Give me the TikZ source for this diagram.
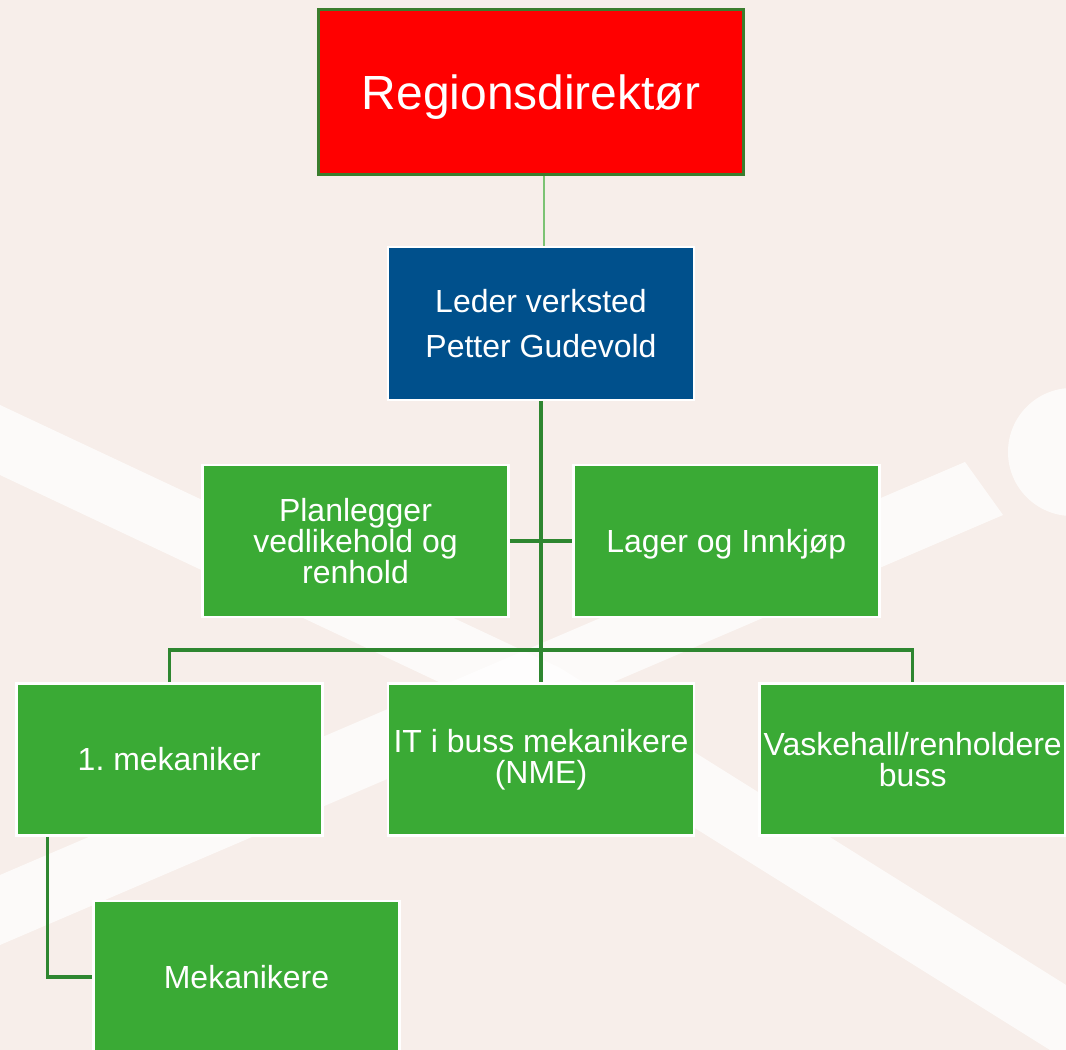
\documentclass[tikz,border=0pt]{standalone}
\usepackage{fontspec}
\setmainfont{Liberation Sans}
\usetikzlibrary{positioning}

\definecolor{bgbeige}{HTML}{F7EEEA}
\definecolor{dirred}{HTML}{FF0000}
\definecolor{lederblue}{HTML}{00508C}
\definecolor{unitgreen}{HTML}{3AAA35}
\definecolor{linkgreen}{HTML}{2E8630}
\definecolor{lightlink}{HTML}{7CC374}
\definecolor{rimgreen}{HTML}{3B7D2E}

\tikzset{
  unit/.style={rectangle, draw=white, line width=1.6pt, fill=unitgreen, text=white,
               minimum width=6.12cm, minimum height=3.04cm, inner sep=0pt, align=center,
               font=\fontsize{18.2}{17.8}\selectfont\frenchspacing},
  link/.style={draw=linkgreen, line width=1.8pt},
  band/.style={fill=white, opacity=0.75},
}

\begin{document}
\begin{tikzpicture}[x=0.02cm, y=-0.02cm]
    % Page and background
    \useasboundingbox (0,0) rectangle (1066,1050);
    \fill[bgbeige] (0,0) rectangle (1066,1050);
    \begin{scope}
        \clip (0,0) rectangle (1066,1050);
        \fill[band] (0,405) -- (560,668) -- (1066,985) -- (1066,1060) -- (530,725) -- (0,475) -- cycle;
        \fill[band] (0,875) -- (965,462) -- (1003,515) -- (0,945) -- cycle;
        \fill[band] (1072,452) circle (64);
    \end{scope}

    % Top of the chart
    \node[rectangle, draw=rimgreen, line width=1.7pt, fill=dirred, text=white, text depth=0pt,
          minimum width=8.52cm, minimum height=3.32cm, font=\fontsize{27.3}{30}\selectfont]
        (regdir) at (531,92) {Regionsdirektør};
    \node[rectangle, draw=white, line width=1.6pt, fill=lederblue, text=white,
          minimum width=6.12cm, minimum height=3.06cm, align=center,
          font=\fontsize{18.2}{25.6}\selectfont]
        (leder) at (541,323.5) {Leder verksted\\Petter Gudevold};

    % Staff units beside the trunk
    \node[unit] (planlegger) at (355.5,541) {Planlegger\\vedlikehold og\\renhold};
    \node[unit, text depth=0pt, right=1.24cm of planlegger] (lager) {Lager og Innkjøp};

    % Departments
    \node[unit] (itbuss) at (541,759.5) {IT i buss mekanikere\\(NME)};
    \node[unit, left=1.26cm of itbuss] (mek1) {1. mekaniker};
    \node[unit, right=1.26cm of itbuss] (vaskehall) {Vaskehall/renholdere\\buss};
    \node[unit] (mekanikere) at (246.5,977) {Mekanikere};

    % Connections
    \coordinate (bus) at (541,650);
    \draw[lightlink, line width=1.1pt] ([xshift=0.06cm]leder.north |- regdir.south) -- ([xshift=0.06cm]leder.north);
    \draw[link] (leder.south) -- (itbuss.north);
    \draw[link] (planlegger.east) -- (lager.west);
    \draw[link] (mek1.north) |- (bus) -| (vaskehall.north);
    \draw[link] ([xshift=0.66cm]mek1.south west) |- (mekanikere.west);
\end{tikzpicture}
\end{document}
